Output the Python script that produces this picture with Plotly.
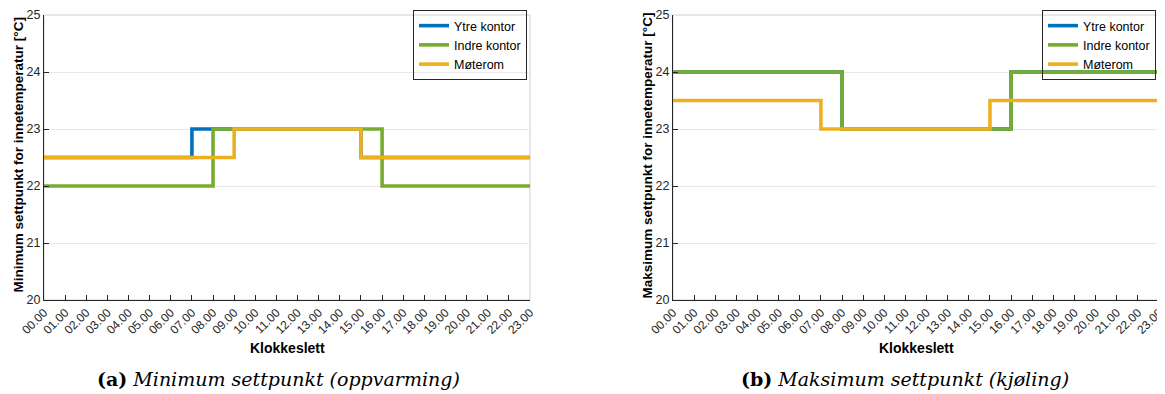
import plotly.graph_objects as go

hours = list(range(24))
tick_labels = ["00.00", "01.00", "02.00", "03.00", "04.00", "05.00", "06.00", "07.00",
               "08.00", "09.00", "10.00", "11.00", "12.00", "13.00", "14.00", "15.00",
               "16.00", "17.00", "18.00", "19.00", "20.00", "21.00", "22.00", "23.00"]
series_names = ["Ytre kontor", "Indre kontor", "Møterom"]

ytre_min = [22.5, 22.5, 22.5, 22.5, 22.5, 22.5, 22.5, 23, 23, 23, 23, 23, 23, 23, 23,
            22.5, 22.5, 22.5, 22.5, 22.5, 22.5, 22.5, 22.5, 22.5]
indre_min = [22, 22, 22, 22, 22, 22, 22, 22, 23, 23, 23, 23, 23, 23, 23, 23,
             22, 22, 22, 22, 22, 22, 22, 22]
mote_min = [22.5, 22.5, 22.5, 22.5, 22.5, 22.5, 22.5, 22.5, 22.5, 23, 23, 23, 23, 23, 23,
            22.5, 22.5, 22.5, 22.5, 22.5, 22.5, 22.5, 22.5, 22.5]

ytre_max = [24, 24, 24, 24, 24, 24, 24, 24, 23, 23, 23, 23, 23, 23, 23, 23,
            24, 24, 24, 24, 24, 24, 24, 24]
indre_max = [24, 24, 24, 24, 24, 24, 24, 24, 23, 23, 23, 23, 23, 23, 23, 23,
             24, 24, 24, 24, 24, 24, 24, 24]
mote_max = [23.5, 23.5, 23.5, 23.5, 23.5, 23.5, 23.5, 23, 23, 23, 23, 23, 23, 23, 23,
            23.5, 23.5, 23.5, 23.5, 23.5, 23.5, 23.5, 23.5, 23.5]

y_ticks = [20, 21, 22, 23, 24, 25]
colors = ["#0072BD", "#77AC30", "#EDB120"]

# the page body has a default 8px margin; work in window pixels and compensate
OFF = 8
W, H = 1165 - OFF, 394 - OFF
FONT = "Liberation Sans, Arial, sans-serif"
AX = "#262626"

def px_x(p):
    return (p - OFF) / W

def px_y(p):
    return 1 - (p - OFF) / H

fig = go.Figure()

panels = [
    ("x", "y", "legend", [ytre_min, indre_min, mote_min]),
    ("x2", "y2", "legend2", [ytre_max, indre_max, mote_max]),
]
for xa, ya, lg, data in panels:
    for name, vals, col in zip(series_names, data, colors):
        fig.add_trace(go.Scatter(
            x=hours, y=vals, name=name, mode="lines", line_shape="hv",
            line=dict(color=col, width=3.6), xaxis=xa, yaxis=ya, legend=lg,
        ))

px_l = [(44, 530), (673, 1159)]
top, bottom = 15, 300
ydom = [px_y(bottom), px_y(top)]

def xaxis(dom, anchor):
    return dict(domain=[px_x(dom[0]), px_x(dom[1])], anchor=anchor, range=[0, 23],
                automargin=False, ticklabeloverflow="allow",
                tickmode="array", tickvals=hours, ticktext=tick_labels,
                tickangle=-45, ticks="inside", ticklen=5, tickcolor=AX,
                showline=True, linecolor=AX, linewidth=1, mirror=False,
                showgrid=False, zeroline=False,
                tickfont=dict(family=FONT, size=12, color=AX))

def yaxis(anchor):
    return dict(domain=ydom, anchor=anchor, range=[20, 25], tickvals=y_ticks,
                automargin=False, ticklabeloverflow="allow",
                ticks="inside", ticklen=5, tickcolor=AX,
                showline=True, linecolor=AX, linewidth=1, mirror=False,
                showgrid=True, gridcolor="#e8e8e8", gridwidth=1, zeroline=False,
                tickfont=dict(family=FONT, size=12.5, color=AX))

legend_common = dict(bgcolor="rgba(255,255,255,0)", bordercolor=AX, borderwidth=1,
                     font=dict(family=FONT, size=12.5, color="black"),
                     xanchor="right", yanchor="top", itemwidth=30,
                     tracegroupgap=0)

fig.update_layout(
    template="none",
    width=W, height=H, margin=dict(l=0, r=0, t=0, b=0, pad=0),
    paper_bgcolor="white", plot_bgcolor="white",
    xaxis=xaxis(px_l[0], "y"), yaxis=yaxis("x"),
    xaxis2=xaxis(px_l[1], "y2"), yaxis2=yaxis("x2"),
    legend=dict(x=px_x(527), y=px_y(10), **legend_common),
    legend2=dict(x=px_x(1156), y=px_y(10), **legend_common),
    showlegend=True,
)

# light box around plot areas (top / right edges)
for xa, ya in [("x", "y"), ("x2", "y2")]:
    fig.add_shape(type="rect", xref=f"{xa} domain", yref=f"{ya} domain",
                  x0=0, x1=1, y0=0, y1=1, line=dict(color="#cfcfcf", width=1),
                  layer="below")

ytitles = ["Minimum settpunkt for innetemperatur [°C]",
           "Maksimum settpunkt for innetemperatur [°C]"]
captions = ["<b>(a)</b> <i>Minimum settpunkt (oppvarming)</i>",
            "<b>(b)</b> <i>Maksimum settpunkt (kjøling)</i>"]
cap_centers = [278, 905]
for (x0, x1), yt, cap, cc in zip(px_l, ytitles, captions, cap_centers):
    fig.add_annotation(text=f"<b>{yt}</b>", textangle=-90, xref="paper", yref="paper",
                       x=px_x(x0 - 26), y=px_y((top + bottom) / 2 - 2),
                       showarrow=False, font=dict(family=FONT, size=13.5, color="black"),
                       xanchor="center", yanchor="middle")
    fig.add_annotation(text="<b>Klokkeslett</b>", xref="paper", yref="paper",
                       x=px_x((x0 + x1) / 2), y=px_y(348), showarrow=False,
                       font=dict(family=FONT, size=14, color="black"),
                       xanchor="center", yanchor="middle")
    fig.add_annotation(text=cap, xref="paper", yref="paper",
                       x=px_x(cc), y=px_y(379), showarrow=False,
                       font=dict(family="DejaVu Serif, serif", size=19, color="black"),
                       xanchor="center", yanchor="middle")

fig.write_html("out.html")
